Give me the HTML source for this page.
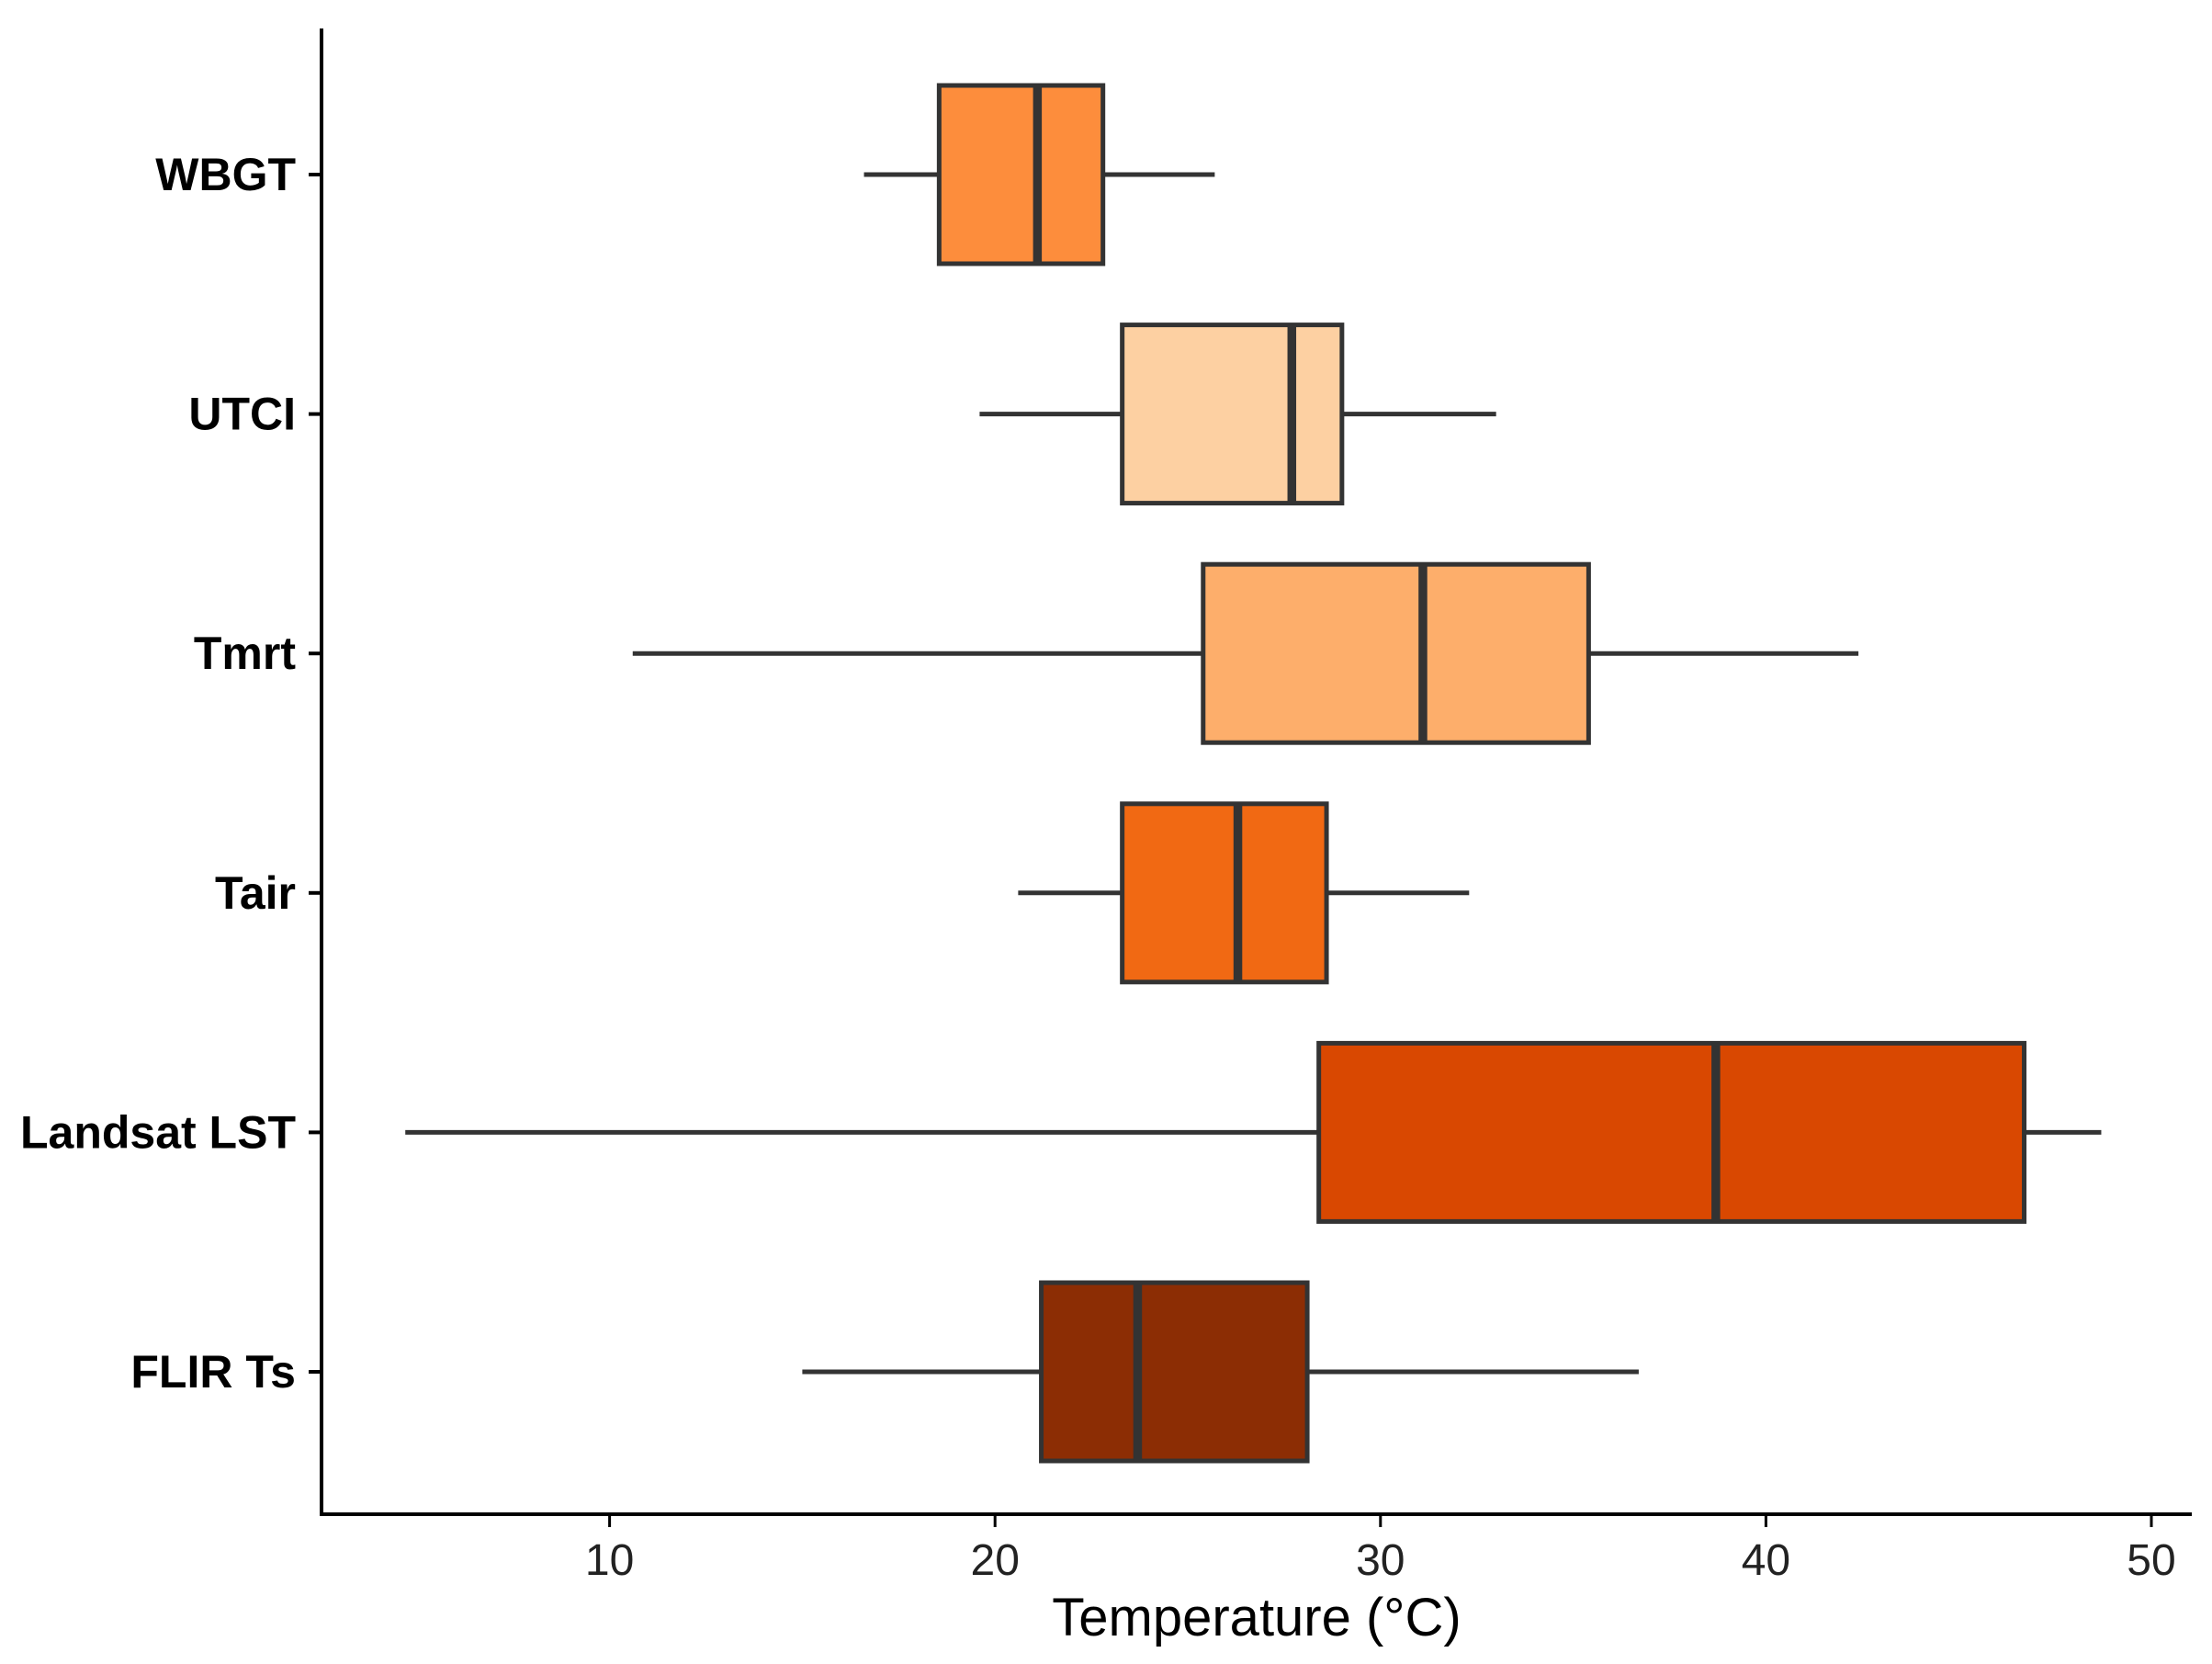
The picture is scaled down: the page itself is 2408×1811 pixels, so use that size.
<!DOCTYPE html>
<html><head><meta charset="utf-8"><style>
html,body{margin:0;padding:0;background:#fff;}
svg{display:block;font-family:"Liberation Sans",Arial,sans-serif;}
</style></head><body>
<svg id="chart" width="2408" height="1811" viewBox="0 0 2408 1811">
<g id="plot"></g>
<g id="axes"></g>
</svg>
<script>
const categories = ["WBGT","UTCI","Tmrt","Tair","Landsat LST","FLIR Ts"];
const whiskerLow = [16.6,19.6,10.6,20.6,4.7,15.0];
const q1 = [18.55,23.3,25.4,23.3,28.4,21.2];
const median = [21.1,27.7,31.1,26.3,38.7,23.7];
const q3 = [22.8,29.0,35.4,28.6,46.7,28.1];
const whiskerHigh = [25.7,33.0,42.4,32.3,48.7,36.7];
const fills = ["#FD8D3C","#FDD0A2","#FDAE6B","#F16913","#D94801","#8C2D04"];
const xTicks = [10,20,30,40,50];

const NS="http://www.w3.org/2000/svg";
const x0=244, pxPerUnit=41.96;
function xs(v){return x0+v*pxPerUnit;}
const yTop=190, yStep=260.6;
function ys(i){return yTop+i*yStep;}
const halfH=97;
const plot=document.getElementById('plot');
const axes=document.getElementById('axes');
function mk(tag,attrs,parent){const e=document.createElementNS(NS,tag);for(const k in attrs)e.setAttribute(k,attrs[k]);parent.appendChild(e);return e;}

categories.forEach((c,i)=>{
  const y=ys(i);
  const g=mk('g',{},plot);
  
  
  mk('line',{x1:xs(whiskerLow[i]),x2:xs(q1[i]),y1:y,y2:y,stroke:'#333',"stroke-width":5},g);
  mk('line',{x1:xs(q3[i]),x2:xs(whiskerHigh[i]),y1:y,y2:y,stroke:'#333',"stroke-width":5},g);
  mk('rect',{x:xs(q1[i]),y:y-halfH,width:xs(q3[i])-xs(q1[i]),height:2*halfH,fill:fills[i],stroke:'#333',"stroke-width":5},g);
  mk('line',{x1:xs(median[i]),x2:xs(median[i]),y1:y-halfH,y2:y+halfH,stroke:'#333',"stroke-width":9.5},g);
  const t=mk('text',{x:322,y:y+17,"text-anchor":"end","font-size":50,"font-weight":"bold",fill:"#000"},axes);
  t.textContent=c;
  
  
  mk('line',{x1:336,x2:350,y1:y,y2:y,stroke:'#000',"stroke-width":4},axes);
});
const ya=mk('line',{x1:350,x2:350,y1:31,y2:1650,stroke:'#000',"stroke-width":4},axes);


const xa=mk('line',{x1:348,x2:2386,y1:1648,y2:1648,stroke:'#000',"stroke-width":4},axes);


xTicks.forEach(v=>{
  mk('line',{x1:xs(v),x2:xs(v),y1:1648,y2:1662,stroke:'#000',"stroke-width":3},axes);
  const t=mk('text',{x:xs(v),y:1714,"text-anchor":"middle","font-size":48,fill:"#222"},axes);
  t.textContent=v;
  
  
});
const xt=mk('text',{x:1368,y:1780,"text-anchor":"middle","font-size":58,fill:"#000"},axes);
xt.textContent="Temperature (°C)";


</script>
</body></html>
